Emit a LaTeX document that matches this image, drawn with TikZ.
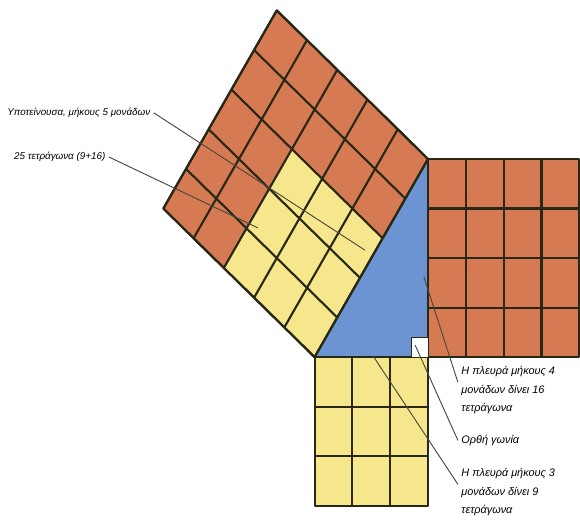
\documentclass[tikz,border=0pt]{standalone}
\usepackage{fontspec}
\setmainfont{Liberation Sans}
\usepackage{xcolor}

\definecolor{brick}{RGB}{214,122,84}
\definecolor{sand}{RGB}{246,231,140}
\definecolor{slate}{RGB}{108,148,210}
\definecolor{ink}{RGB}{40,40,22}

\tikzset{
  gridline/.style={draw=ink, line width=1.6pt, line join=round},
  leader/.style={draw=ink!85, line width=0.7pt},
  smalllbl/.style={font=\fontsize{7.4}{9}\selectfont\itshape, inner sep=2.5pt},
  sidelbl/.style={font=\fontsize{8.2}{13.9}\selectfont\itshape, align=left, inner sep=2.5pt, anchor=north west}
}

\begin{document}
\begin{tikzpicture}[xscale=1, yscale=1.31]
        \useasboundingbox (-11.32,-3.27) rectangle (4.02,7.21);

        \fill[slate] (0,0) -- (0,4) -- (-3,0) -- cycle;
        \fill[brick] (0,0) rectangle (4,4);
        \fill[sand] (-3,-3) rectangle (0,0);
        \begin{scope}[shift={(-3,0)}, cm={0.6,0.8,-0.8,0.6,(0,0)}]
                \fill[brick] (0,0) rectangle (5,5);
                \fill[sand] (0,0) rectangle (3,3);
                \draw[gridline] (0,0) grid (5,5);
                \draw[gridline] (0,0) rectangle (5,5);
        \end{scope}
        \draw[gridline] (0,0) grid (4,4);
        \draw[gridline] (0,0) rectangle (4,4);
        \draw[gridline] (-3,-3) grid (0,0);
        \draw[gridline] (-3,-3) rectangle (0,0);
        \fill[white, draw=ink, line width=0.6pt] (-0.45,0) rectangle (0,0.4);

        \node[smalllbl, anchor=east] at (-7.25, 4.93) (hyplbl) {Υποτείνουσα, μήκους 5 μονάδων};
        \node[smalllbl, anchor=east] at (-8.44, 4.04) (sqlbl) {25 τετράγωνα (9+16)};
        \node[sidelbl] at (0.79, -0.12) (leg4lbl) {Η πλευρά μήκους 4\\μονάδων δίνει 16\\τετράγωνα};
        \node[smalllbl, font=\fontsize{8.2}{9}\selectfont\itshape, anchor=west] at (0.79, -1.68) (anglbl) {Ορθή γωνία};
        \node[sidelbl] at (0.79, -2.18) (leg3lbl) {Η πλευρά μήκους 3\\μονάδων δίνει 9\\τετράγωνα};

        \coordinate (hypend) at (-1.67, 2.16);
        \coordinate (sqend) at (-4.50, 2.61);
        \coordinate (leg4end) at (-0.11, 1.62);
        \coordinate (angend) at (-0.34, 0.24);
        \coordinate (leg3end) at (-1.45, 0.02);

        \draw[leader] (hyplbl.east) -- (hypend);
        \draw[leader] (sqlbl.east) -- (sqend);
        \draw[leader] ([yshift=-11pt]leg4lbl.north west) -- (leg4end);
        \draw[leader] (anglbl.west) -- (angend);
        \draw[leader] ([yshift=-11pt]leg3lbl.north west) -- (leg3end);
\end{tikzpicture}
\end{document}
